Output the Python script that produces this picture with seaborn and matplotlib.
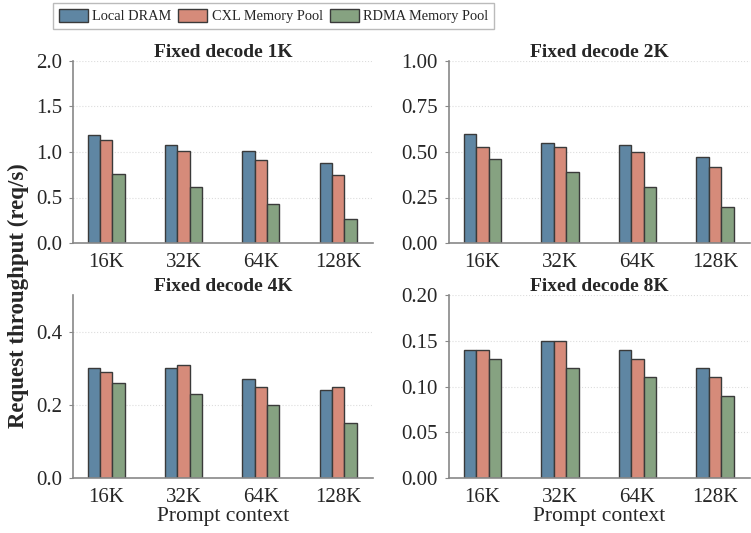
import pandas as pd
import numpy as np
import seaborn as sns
import matplotlib.pyplot as plt

# data
contexts = ['16K', '32K', '64K', '128K']
systems = ['Local DRAM', 'CXL Memory Pool', 'RDMA Memory Pool']
titles = ['Fixed decode 1K', 'Fixed decode 2K', 'Fixed decode 4K', 'Fixed decode 8K']

local_1k = [1.19, 1.08, 1.01, 0.88]
cxl_1k = [1.13, 1.01, 0.91, 0.75]
rdma_1k = [0.76, 0.61, 0.43, 0.26]

local_2k = [0.60, 0.55, 0.54, 0.47]
cxl_2k = [0.53, 0.53, 0.50, 0.42]
rdma_2k = [0.46, 0.39, 0.31, 0.20]

local_4k = [0.30, 0.30, 0.27, 0.24]
cxl_4k = [0.29, 0.31, 0.25, 0.25]
rdma_4k = [0.26, 0.23, 0.20, 0.15]

local_8k = [0.14, 0.15, 0.14, 0.12]
cxl_8k = [0.14, 0.15, 0.13, 0.11]
rdma_8k = [0.13, 0.12, 0.11, 0.09]

ylims = [(0, 2.0), (0, 1.0), (0, 0.5), (0, 0.2)]
yticks = [[0, 0.5, 1.0, 1.5, 2.0], [0, 0.25, 0.5, 0.75, 1.0], [0, 0.2, 0.4], [0, 0.05, 0.1, 0.15, 0.2]]
yfmt = ['%.1f', '%.2f', '%.1f', '%.2f']

panels = [(local_1k, cxl_1k, rdma_1k), (local_2k, cxl_2k, rdma_2k),
          (local_4k, cxl_4k, rdma_4k), (local_8k, cxl_8k, rdma_8k)]

palette = ['#5f86a3', '#d68b7a', '#86a281']

sns.set_style('ticks')
plt.rcParams['font.family'] = ['Liberation Serif', 'DejaVu Serif']
plt.rcParams['font.size'] = 12

fig = plt.figure(figsize=(7.51, 5.33), dpi=100)
W, H = 751, 533
boxes = [(73, 61, 373, 243), (449, 61, 750, 243), (73, 295, 373, 478), (449, 295, 750, 478)]

axes = []
for i, (x0, y0, x1, y1) in enumerate(boxes):
    ax = fig.add_axes([x0 / W, 1 - y1 / H, (x1 - x0) / W, (y1 - y0) / H])
    loc, cxl, rdma = panels[i]
    df = pd.DataFrame({
        'context': contexts * 3,
        'system': [s for s in systems for _ in contexts],
        'value': loc + cxl + rdma,
    })
    sns.barplot(data=df, x='context', y='value', hue='system', hue_order=systems,
                order=contexts, palette=palette, width=0.48, edgecolor='#3a3a3a',
                linewidth=1.0, saturation=1, ax=ax, legend=(i == 0))
    ax.set_ylim(*ylims[i])
    ax.set_yticks(yticks[i])
    ax.set_yticklabels([yfmt[i] % v for v in yticks[i]])
    ax.set_xlim(-0.43, 3.45)
    ax.set_title(titles[i], fontweight='bold', fontsize=14, pad=3)
    ax.set_ylabel('')
    ax.set_xlabel('Prompt context' if i >= 2 else '', fontsize=15.5, labelpad=0)
    ax.yaxis.grid(True, linestyle=':', color='#dddddd', linewidth=0.8)
    ax.set_axisbelow(True)
    for s in ['top', 'right']:
        ax.spines[s].set_visible(False)
    for s in ['left', 'bottom']:
        ax.spines[s].set_color('#888888')
        ax.spines[s].set_linewidth(1.2)
    ax.tick_params(axis='y', length=3, color='#888888', labelsize=15, pad=5)
    ax.tick_params(axis='x', length=0, labelsize=15, pad=7)
    axes.append(ax)

handles, labels = axes[0].get_legend_handles_labels()
axes[0].get_legend().remove()
fig.legend(handles, labels, loc='upper left', bbox_to_anchor=(53 / W, 1 - 3 / H),
           ncol=3, frameon=True, fancybox=False, edgecolor='#aaaaaa', fontsize=10.4,
           handlelength=2.0, handleheight=1.0, handletextpad=0.3, columnspacing=0.5,
           borderpad=0.4, borderaxespad=0)

fig.text(18 / W, 1 - 296 / H, 'Request throughput (req/s)', rotation=90, fontweight='bold',
         fontsize=16.5, ha='center', va='center')

fig.savefig('out.png', dpi=100)
